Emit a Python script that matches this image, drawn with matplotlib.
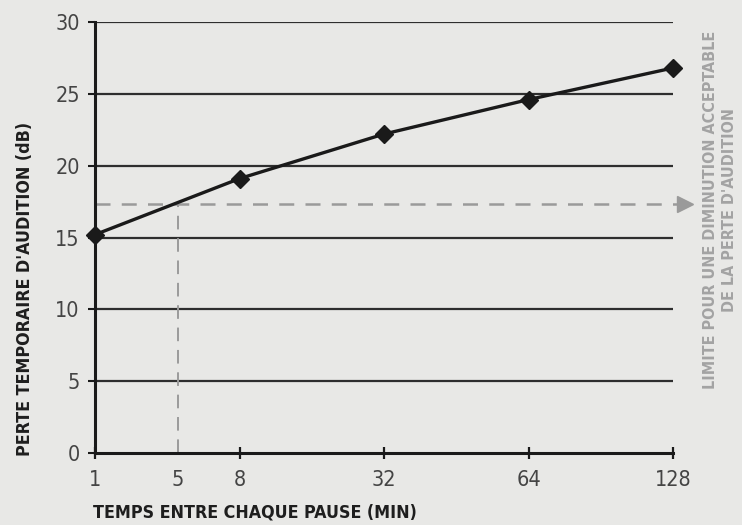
import numpy as np
import matplotlib
matplotlib.use("Agg")
import matplotlib.pyplot as plt

# pause intervals (min) and temporary hearing loss (dB)
pause_labels = ["1", "8", "32", "64", "128"]
hearing_loss = [15.2, 19.1, 22.2, 24.6, 26.8]
y_ticks = [0, 5, 10, 15, 20, 25, 30]
limit_db = 17.3          # acceptable limit
limit_pause = 5          # pause interval where the limit is reached

plt.rcParams["font.family"] = ["DejaVu Sans"]
plt.rcParams["font.stretch"] = "condensed"

bg = "#e8e8e6"
fig = plt.figure(figsize=(7.42, 5.25), dpi=100, facecolor=bg)
ax = fig.add_axes([95 / 742, 72 / 525, 578 / 742, 431 / 525])
ax.set_facecolor(bg)

x = np.arange(len(pause_labels))
ax.set_xlim(0, len(pause_labels) - 1)
ax.set_ylim(0, 30)

# horizontal grid lines
for v in y_ticks[1:]:
    ax.axhline(v, color="#2e2e2e", lw=1.6, zorder=1)

# limit lines (x position of 5 min interpolated between 1 and 8)
x5 = np.interp(limit_pause, [1, 8], [0, 1])
ax.plot([0, 4.03], [limit_db, limit_db], color="#9a9a9a", lw=1.8,
        dashes=(6, 4.5), zorder=2, clip_on=False)
ax.plot([x5, x5], [0, limit_db], color="#9a9a9a", lw=1.4,
        dashes=(7, 4.5), zorder=2)
ax.plot([4.085], [limit_db], marker=">", color="#9a9a9a", ms=11,
        clip_on=False, zorder=3)

# data line
ax.plot(x, hearing_loss, color="#1a1a1a", lw=2.4, marker="D", ms=9,
        zorder=4, clip_on=False)

for s in ["top", "right"]:
    ax.spines[s].set_visible(False)
for s in ["left", "bottom"]:
    ax.spines[s].set_color("#1a1a1a")
    ax.spines[s].set_linewidth(2.2)

ax.set_yticks(y_ticks)
ax.set_yticklabels([str(v) for v in y_ticks], fontsize=15.5, color="#444444")
ax.tick_params(axis="y", direction="out", length=5, width=1.5,
               color="#1a1a1a", pad=6)

ax.set_xticks(list(x) + [x5])
ax.set_xticklabels(pause_labels + [str(limit_pause)], fontsize=15.5,
                   color="#444444")
ax.tick_params(axis="x", direction="inout", length=8, width=1.6,
               color="#1a1a1a", pad=8)
ax.get_xticklines()[-2].set_visible(False)
ax.get_xticklines()[-1].set_visible(False)

fig.text(93 / 742, 1 - 512 / 525, "TEMPS ENTRE CHAQUE PAUSE (MIN)",
         fontsize=12.8, fontweight="bold", color="#1e1e1e", va="center")
fig.text(25 / 742, 1 - 289 / 525, "PERTE TEMPORAIRE D'AUDITION (dB)",
         fontsize=12.8, fontweight="bold", color="#1e1e1e",
         rotation=90, ha="center", va="center")
fig.text(720 / 742, 1 - 210 / 525,
         "LIMITE POUR UNE DIMINUTION ACCEPTABLE\nDE LA PERTE D'AUDITION",
         fontsize=11.5, fontweight="bold", color="#a3a3a3", rotation=90,
         ha="center", va="center", multialignment="center",
         linespacing=1.3)

fig.savefig("out.png", dpi=100, facecolor=bg)
